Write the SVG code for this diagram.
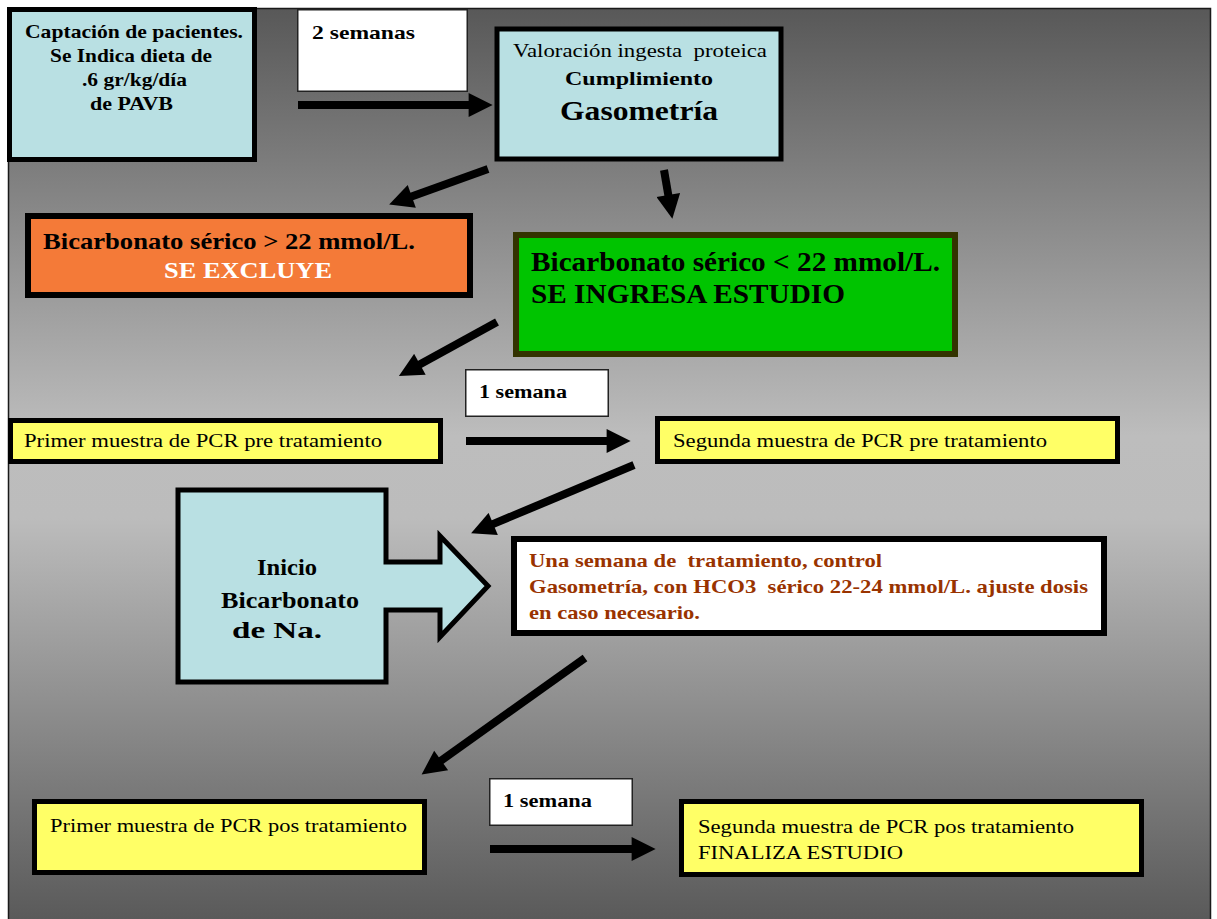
<svg xmlns="http://www.w3.org/2000/svg" width="1217" height="919" viewBox="0 0 1217 919" font-family="Liberation Serif, Tinos, Times New Roman, Times, serif">
<defs>
<linearGradient id="bg" gradientUnits="userSpaceOnUse" x1="0" y1="8" x2="0" y2="919">
<stop offset="0" stop-color="#585858"/>
<stop offset="0.47" stop-color="#bdbdbd"/>
<stop offset="0.56" stop-color="#bcbcbc"/>
<stop offset="1" stop-color="#5a5a5a"/>
</linearGradient>
<marker id="ah" viewBox="0 0 10 10" refX="1" refY="5" markerWidth="3.3" markerHeight="3" orient="auto" markerUnits="strokeWidth">
<path d="M0,0 L10,5 L0,10 z" fill="#000"/>
</marker>
<style>
text{font-family:'Liberation Serif',Tinos,'Times New Roman',Times,serif;fill:#000;white-space:pre}
.b{font-weight:bold}
.blue{fill:#b9e0e3;stroke:#000;stroke-width:5}
.yel{fill:#ffff66;stroke:#000;stroke-width:5}
.lbl{fill:#fff;stroke:#222;stroke-width:1.5}
.arr{stroke:#000;stroke-width:8;fill:none;marker-end:url(#ah)}
.brown{fill:#993300}
</style>
</defs>
<rect x="0" y="0" width="1217" height="919" fill="#fff"/>
<rect x="8.5" y="8.5" width="1202" height="920" fill="url(#bg)" stroke="#1a1a1a" stroke-width="1.5"/>

<g id="connectors">
<line class="arr" x1="298" y1="105" x2="471" y2="105"/>
<line class="arr" x1="488" y1="169" x2="409.5" y2="197.2"/>
<line class="arr" x1="664" y1="170" x2="668.7" y2="197.4"/>
<line class="arr" x1="497" y1="322" x2="417.8" y2="365.5"/>
<line class="arr" x1="466" y1="441" x2="609" y2="441"/>
<line class="arr" x1="634" y1="465" x2="491" y2="524.9"/>
<line class="arr" x1="585" y1="658" x2="439.2" y2="761.9"/>
<line class="arr" x1="490" y1="849" x2="634" y2="849"/>
</g>

<g id="captacion">
<rect class="blue" x="9.5" y="9.5" width="245" height="150"/>
<text class="b" font-size="19" x="25" y="38" textLength="218" lengthAdjust="spacingAndGlyphs">Captación de pacientes.</text>
<text class="b" font-size="19" x="50" y="62" textLength="162" lengthAdjust="spacingAndGlyphs">Se Indica dieta de</text>
<text class="b" font-size="19" x="82" y="86" textLength="105" lengthAdjust="spacingAndGlyphs">.6 gr/kg/día</text>
<text class="b" font-size="19" x="90" y="110" textLength="83" lengthAdjust="spacingAndGlyphs">de PAVB</text>
</g>

<g id="lbl2semanas">
<rect class="lbl" x="297.75" y="9.75" width="169.5" height="81.5"/>
<text class="b" font-size="19" x="312" y="39" textLength="103" lengthAdjust="spacingAndGlyphs">2 semanas</text>
</g>

<g id="valoracion">
<rect class="blue" x="497" y="29" width="284" height="130" stroke-width="6"/>
<text font-size="19" x="513" y="57" textLength="254" lengthAdjust="spacingAndGlyphs">Valoración ingesta  proteica</text>
<text class="b" font-size="19" x="565" y="85" textLength="148" lengthAdjust="spacingAndGlyphs">Cumplimiento</text>
<text class="b" font-size="28" x="560" y="120" textLength="158" lengthAdjust="spacingAndGlyphs">Gasometría</text>
</g>

<g id="excluye">
<rect x="28" y="216" width="442" height="79" fill="#f47a38" stroke="#000" stroke-width="6"/>
<text class="b" font-size="24" x="43" y="249" textLength="372" lengthAdjust="spacingAndGlyphs">Bicarbonato sérico &gt; 22 mmol/L.</text>
<text class="b" font-size="24" x="164" y="278" textLength="168" lengthAdjust="spacingAndGlyphs" style="fill:#fff">SE EXCLUYE</text>
</g>

<g id="ingresa">
<rect x="516" y="235" width="439" height="119" fill="#00c400" stroke="#333300" stroke-width="6"/>
<text class="b" font-size="27" x="531" y="271" textLength="409" lengthAdjust="spacingAndGlyphs">Bicarbonato sérico &lt; 22 mmol/L.</text>
<text class="b" font-size="27" x="531" y="303" textLength="314" lengthAdjust="spacingAndGlyphs">SE INGRESA ESTUDIO</text>
</g>

<g id="lbl1semana_a">
<rect class="lbl" x="465.75" y="369.75" width="142.5" height="46.5"/>
<text class="b" font-size="18" x="479" y="398" textLength="88" lengthAdjust="spacingAndGlyphs">1 semana</text>
</g>

<g id="pcr_pre1">
<rect class="yel" x="10.5" y="420.5" width="430" height="41"/>
<text font-size="19" x="24" y="447" textLength="358" lengthAdjust="spacingAndGlyphs">Primer muestra de PCR pre tratamiento</text>
</g>

<g id="pcr_pre2">
<rect class="yel" x="657.5" y="418.5" width="460" height="43"/>
<text font-size="19" x="673" y="447" textLength="374" lengthAdjust="spacingAndGlyphs">Segunda muestra de PCR pre tratamiento</text>
</g>

<g id="inicio">
<path class="blue" d="M178,490 H386 V562 H440 V536 L488,586 L440,637 V610 H386 V682 H178 Z"/>
<text class="b" font-size="23" x="257" y="575" textLength="60" lengthAdjust="spacingAndGlyphs">Inicio</text>
<text class="b" font-size="23" x="221" y="608" textLength="138" lengthAdjust="spacingAndGlyphs">Bicarbonato</text>
<text class="b" font-size="23" x="232" y="638" textLength="90" lengthAdjust="spacingAndGlyphs">de Na.</text>
</g>

<g id="control">
<rect x="514" y="539" width="590" height="94" fill="#fff" stroke="#000" stroke-width="6"/>
<text class="b brown" font-size="19" x="529" y="567" textLength="353" lengthAdjust="spacingAndGlyphs">Una semana de  tratamiento, control</text>
<text class="b brown" font-size="19" x="529" y="593" textLength="559" lengthAdjust="spacingAndGlyphs">Gasometría, con HCO3  sérico 22-24 mmol/L. ajuste dosis</text>
<text class="b brown" font-size="19" x="529" y="619" textLength="171" lengthAdjust="spacingAndGlyphs">en caso necesario.</text>
</g>

<g id="pcr_pos1">
<rect class="yel" x="34.5" y="801.5" width="390" height="71"/>
<text font-size="19" x="50" y="832" textLength="357" lengthAdjust="spacingAndGlyphs">Primer muestra de PCR pos tratamiento</text>
</g>

<g id="lbl1semana_b">
<rect class="lbl" x="489.75" y="778.75" width="142.5" height="46.5"/>
<text class="b" font-size="18" x="503" y="807" textLength="89" lengthAdjust="spacingAndGlyphs">1 semana</text>
</g>

<g id="pcr_pos2">
<rect class="yel" x="681.5" y="801.5" width="460" height="73"/>
<text font-size="19" x="698" y="833" textLength="376" lengthAdjust="spacingAndGlyphs">Segunda muestra de PCR pos tratamiento</text>
<text font-size="19" x="698" y="859" textLength="205" lengthAdjust="spacingAndGlyphs">FINALIZA ESTUDIO</text>
</g>
</svg>
